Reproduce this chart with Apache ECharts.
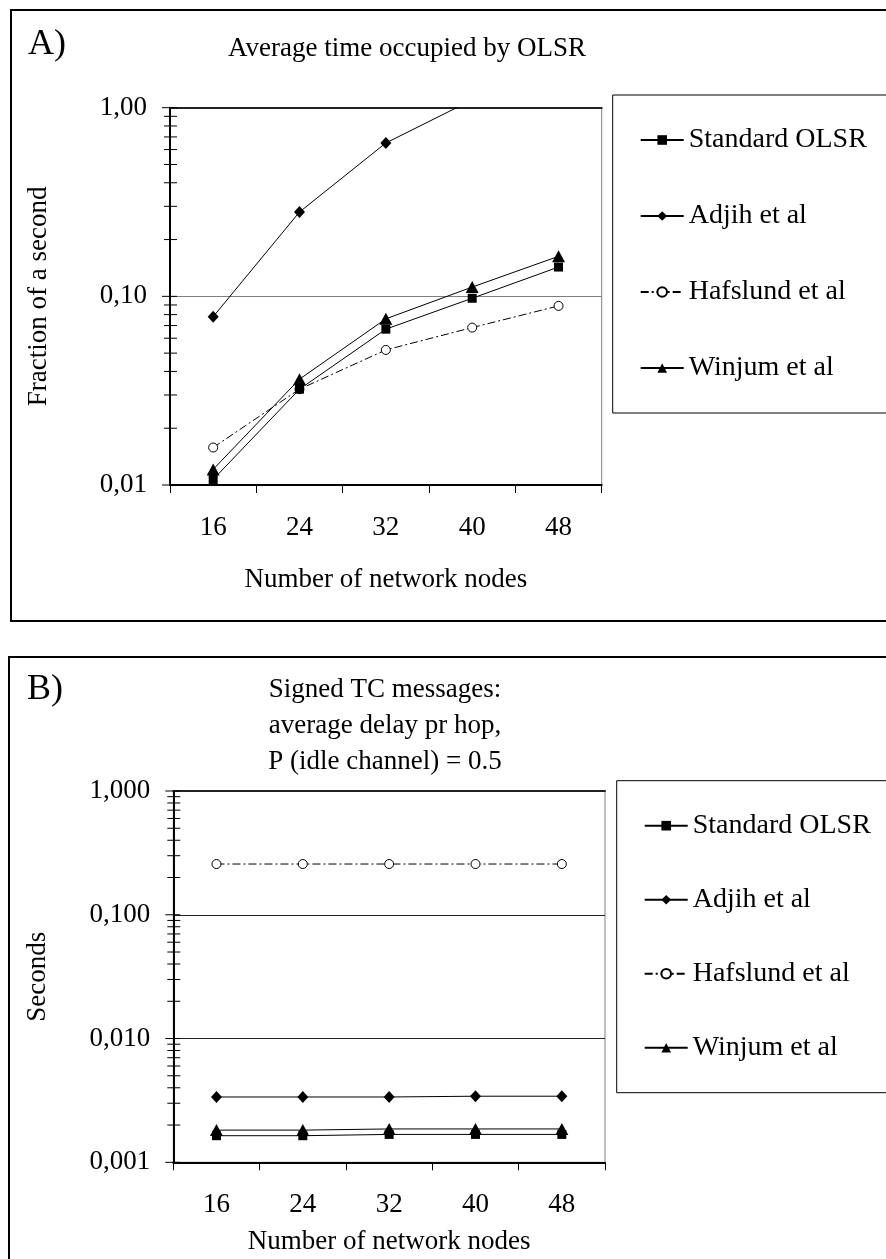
<!DOCTYPE html>
<html>
<head>
<meta charset="utf-8">
<script src="https://cdn.jsdelivr.net/npm/echarts@6/dist/echarts.min.js"></script>
<style>
  html, body { margin: 0; padding: 0; background: #fff; }
  #chart { width: 886px; height: 1259px; }
</style>
</head>
<body>
<div id="chart"></div>
<script>
var categories = ['16', '24', '32', '40', '48'];
var names = ['Standard OLSR', 'Adjih et al', 'Hafslund et al', 'Winjum et al'];

// A) average time occupied by OLSR (fraction of a second)
var stdA = [0.0107, 0.0322, 0.067, 0.0977, 0.143];
var adjihA = [0.078, 0.28, 0.65, 1.10, null];
var hafA = [0.0158, 0.0322, 0.052, 0.0683, 0.089];
var winA = [0.0121, 0.0364, 0.076, 0.112, 0.163];

// B) signed TC messages, average delay pr hop (seconds)
var stdB = [0.00164, 0.00164, 0.00168, 0.00168, 0.00168];
var adjihB = [0.00337, 0.00337, 0.00337, 0.00342, 0.00342];
var hafB = [0.257, 0.257, 0.257, 0.257, 0.257];
var winB = [0.00182, 0.00182, 0.00186, 0.00186, 0.00186];

var decadesA = [0.01, 0.1, 1];
var decadesB = [0.001, 0.01, 0.1, 1];

var font = 'Liberation Serif';
var chart = echarts.init(document.getElementById('chart'));

// major + minor (2..9) log ticks, drawn crossing the y axis like Excel
function logTicks(decades) {
    var out = [];
    for (var i = 0; i < decades.length; i++) {
        out.push([0, decades[i], 1]);
        if (i < decades.length - 1) {
            for (var k = 2; k <= 9; k++) out.push([0, +(decades[i] * k).toPrecision(3), 0]);
        }
    }
    return out;
}

function tickItem(params, api) {
    var cs = params.coordSys;
    var y = api.coord([0, api.value(1)])[1];
    var major = api.value(2) === 1;
    return {
        type: 'line',
        shape: { x1: cs.x - (major ? 8 : 6), y1: y, x2: cs.x + 7, y2: y },
        style: { stroke: '#000', lineWidth: 1 }
    };
}

function makeSeries(idx, d) {
    var dash = [8, 3, 2, 3];
    return [
        { name: names[0], type: 'line', xAxisIndex: idx * 2, yAxisIndex: idx, data: d[0], z: 3,
          symbol: 'rect', symbolSize: 9, lineStyle: { color: '#000', width: 1 },
          itemStyle: { color: '#000' } },
        { name: names[1], type: 'line', xAxisIndex: idx * 2, yAxisIndex: idx, data: d[1], z: 3,
          symbol: 'diamond', symbolSize: [11, 12], lineStyle: { color: '#000', width: 1 },
          itemStyle: { color: '#000' } },
        { name: names[2], type: 'line', xAxisIndex: idx * 2, yAxisIndex: idx, data: d[2], z: 2,
          symbol: 'circle', symbolSize: 9, lineStyle: { color: '#000', width: 1, type: dash },
          itemStyle: { color: '#fff', borderColor: '#000', borderWidth: 1 } },
        { name: names[3], type: 'line', xAxisIndex: idx * 2, yAxisIndex: idx, data: d[3], z: 4,
          symbol: 'triangle', symbolSize: [13, 12], lineStyle: { color: '#000', width: 1 },
          itemStyle: { color: '#000' } },
        { name: 'ticks' + idx, type: 'custom', xAxisIndex: idx * 2, yAxisIndex: idx,
          data: logTicks(idx === 0 ? decadesA : decadesB), encode: { x: 0, y: 1 },
          renderItem: tickItem, silent: true, z: 5 }
    ];
}

function xAxes(gridIndex, gap) {
    return [{
        type: 'category', gridIndex: gridIndex, data: categories, boundaryGap: true,
        axisLine: { lineStyle: { color: '#000', width: 2 } },
        axisTick: { show: true, length: 8, lineStyle: { color: '#000', width: 1 } },
        axisLabel: { color: '#000', fontSize: 27, fontFamily: font, margin: 29 },
        name: 'Number of network nodes', nameLocation: 'middle', nameGap: gap,
        nameTextStyle: { color: '#000', fontSize: 27, fontFamily: font },
        splitLine: { show: false }
    }, {
        type: 'category', gridIndex: gridIndex, data: categories, position: 'top',
        axisLine: { lineStyle: { color: '#222', width: 2 } },
        axisTick: { show: false }, axisLabel: { show: false }, splitLine: { show: false }
    }];
}

function legendBox(left, top, gap) {
    return {
        orient: 'vertical', left: left, top: top, data: names, selectedMode: false,
        itemWidth: 43, itemHeight: 12, itemGap: gap,
        padding: [30, 60, 30, 27],
        borderColor: '#000', borderWidth: 1,
        textStyle: { color: '#000', fontSize: 28, fontFamily: font, lineHeight: 30 }
    };
}

var option = {
    animation: false,
    backgroundColor: '#fff',
    textStyle: { fontFamily: font },
    graphic: [
        { type: 'rect', shape: { x: 11, y: 10, width: 900, height: 611 },
          style: { fill: null, stroke: '#000', lineWidth: 2 } },
        { type: 'rect', shape: { x: 9, y: 657, width: 900, height: 700 },
          style: { fill: null, stroke: '#000', lineWidth: 2 } }
    ],
    title: [
        { text: 'A)', left: 23, top: 22, textStyle: { fontSize: 36, fontWeight: 'normal', color: '#000', fontFamily: font } },
        { text: 'Average time occupied by OLSR', left: 402, top: 30, textAlign: 'center',
          textStyle: { fontSize: 27, fontWeight: 'normal', color: '#000', fontFamily: font } },
        { text: 'B)', left: 22, top: 667, textStyle: { fontSize: 36, fontWeight: 'normal', color: '#000', fontFamily: font } },
        { text: 'Signed TC messages:\naverage delay pr hop,\nP (idle channel) = 0.5', left: 380, top: 667, textAlign: 'center',
          textStyle: { fontSize: 27, fontWeight: 'normal', color: '#000', fontFamily: font, lineHeight: 36, align: 'center' } }
    ],
    legend: [legendBox(612.7, 95, 46), legendBox(616.7, 780.7, 44)],
    grid: [
        { left: 170, top: 107.7, width: 431.7, height: 377.3, show: true, borderColor: '#808080', borderWidth: 1 },
        { left: 173.3, top: 791, width: 431.7, height: 371.3, show: true, borderColor: '#808080', borderWidth: 1 }
    ],
    xAxis: xAxes(0, 81).concat(xAxes(1, 66)),
    yAxis: [{
        type: 'log', logBase: 10, gridIndex: 0, min: 0.01, max: 1,
        axisLine: { show: true, lineStyle: { color: '#000', width: 2 } },
        axisTick: { show: false },
        axisLabel: { color: '#000', fontSize: 27, fontFamily: font, margin: 23,
                     formatter: function (v) { return v.toFixed(2).replace('.', ','); } },
        splitLine: { show: true, lineStyle: { color: '#7f7f7f', width: 1 } },
        name: 'Fraction of a second', nameLocation: 'middle', nameRotate: 90, nameGap: 118,
        nameTextStyle: { color: '#000', fontSize: 27, fontFamily: font }
    }, {
        type: 'log', logBase: 10, gridIndex: 1, min: 0.001, max: 1,
        axisLine: { show: true, lineStyle: { color: '#000', width: 2 } },
        axisTick: { show: false },
        axisLabel: { color: '#000', fontSize: 27, fontFamily: font, margin: 23,
                     formatter: function (v) { return v.toFixed(3).replace('.', ','); } },
        splitLine: { show: true, lineStyle: { color: '#222', width: 1 } },
        name: 'Seconds', nameLocation: 'middle', nameRotate: 90, nameGap: 122,
        nameTextStyle: { color: '#000', fontSize: 27, fontFamily: font }
    }],
    series: makeSeries(0, [stdA, adjihA, hafA, winA]).concat(makeSeries(1, [stdB, adjihB, hafB, winB]))
};

chart.setOption(option);
</script>
</body>
</html>
